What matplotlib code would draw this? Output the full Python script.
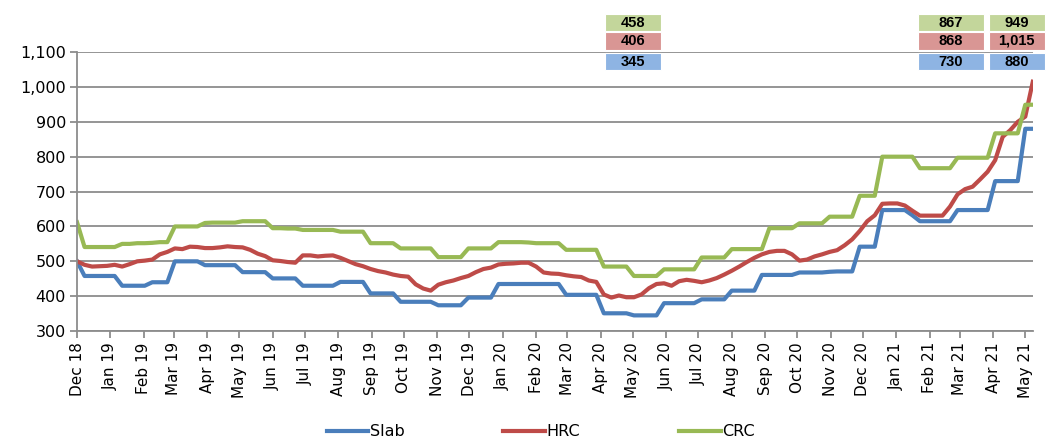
import matplotlib
matplotlib.use("Agg")
import matplotlib.pyplot as plt
import matplotlib.dates as mdates
import matplotlib.ticker as mticker
import matplotlib.transforms as mtransforms
from matplotlib.patches import Rectangle
import pandas as pd

# weekly price assessments, Dec 2018 - May 2021
start_date = "2018-12-01"

slab = [
    500, 458, 458, 458, 458, 458, 430, 430, 430, 430,
    440, 440, 440, 500, 500, 500, 500, 489, 489, 489,
    489, 489, 469, 469, 469, 469, 451, 451, 451, 451,
    430, 430, 430, 430, 430, 441, 441, 441, 441, 408,
    408, 408, 408, 384, 384, 384, 384, 384, 374, 374,
    374, 374, 396, 396, 396, 396, 435, 435, 435, 435,
    435, 435, 435, 435, 435, 404, 404, 404, 404, 404,
    351, 351, 351, 351, 345, 345, 345, 345, 380, 380,
    380, 380, 380, 391, 391, 391, 391, 416, 416, 416,
    416, 461, 461, 461, 461, 461, 468, 468, 468, 468,
    470, 471, 471, 471, 542, 542, 542, 647, 647, 647,
    647, 632, 615, 615, 615, 615, 615, 647, 647, 647,
    647, 647, 730, 730, 730, 730, 880, 880,
]
hrc = [
    500, 490, 485, 486, 487, 490, 485, 492, 500, 502,
    505, 520, 527, 537, 535, 542, 541, 538, 538, 540,
    543, 541, 540, 533, 522, 515, 503, 501, 498, 496,
    517, 517, 514, 516, 517, 510, 501, 492, 486, 478,
    472, 468, 462, 458, 456, 434, 422, 416, 433, 440,
    445, 452, 458, 469, 478, 482, 491, 493, 494, 496,
    496, 485, 468, 465, 464, 460, 457, 455, 445, 441,
    405, 396, 402, 397, 397, 405, 423, 435, 437, 430,
    443, 447, 444, 440, 445, 452, 462, 473, 485, 498,
    510, 520, 527, 530, 530, 520, 502, 505, 514, 520,
    527, 532, 546, 563, 587, 615, 632, 665, 666, 666,
    660, 645, 631, 631, 631, 631, 657, 692, 707, 714,
    735, 757, 790, 857, 876, 900, 915, 1015,
]
crc = [
    612, 541, 541, 541, 541, 541, 550, 550, 552, 552,
    553, 555, 555, 600, 600, 600, 600, 610, 611, 611,
    611, 611, 615, 615, 615, 615, 595, 595, 594, 594,
    590, 590, 590, 590, 590, 585, 585, 585, 585, 552,
    552, 552, 552, 537, 537, 537, 537, 537, 512, 512,
    512, 512, 537, 537, 537, 537, 555, 555, 555, 555,
    554, 552, 552, 552, 552, 533, 533, 533, 533, 533,
    485, 485, 485, 485, 458, 458, 458, 458, 477, 477,
    477, 477, 477, 511, 511, 511, 511, 535, 535, 535,
    535, 535, 595, 595, 595, 595, 609, 609, 609, 609,
    628, 628, 628, 628, 688, 688, 688, 800, 800, 800,
    800, 800, 767, 767, 767, 767, 767, 797, 797, 797,
    797, 797, 867, 867, 867, 867, 949, 949,
]

series_names = ["Slab", "HRC", "CRC"]
series_colors = ["#4A7EBB", "#BE4B48", "#98B954"]
box_colors = ["#8EB4E3", "#D99694", "#C3D69B"]

# value call-outs shown above the chart
callout_dates = ["2020-05-01", "2021-02-21", "2021-04-23"]
callout_slab = ["345", "730", "880"]
callout_hrc = ["406", "868", "1,015"]
callout_crc = ["458", "867", "949"]

dates = pd.date_range(start_date, periods=len(slab), freq="7D")

plt.rcParams["font.family"] = ["DejaVu Sans"]
fig = plt.figure(figsize=(10.48, 4.45), dpi=100)
ax = fig.add_axes([0.0735, 0.256, 0.912, 0.627])

for vals, name, col in zip([slab, hrc, crc], series_names, series_colors):
    ax.plot(dates, vals, color=col, lw=3.0, label=name, solid_joinstyle="round")

ax.set_ylim(300, 1100)
ax.set_xlim(pd.Timestamp(start_date), dates[-1])
ax.yaxis.set_major_locator(mticker.MultipleLocator(100))
ax.yaxis.set_major_formatter(mticker.FuncFormatter(lambda v, p: f"{v:,.0f}"))
ax.xaxis.set_major_locator(mdates.MonthLocator())
ax.xaxis.set_major_formatter(mdates.DateFormatter("%b %y"))

grid_col = "#8C8C8C"
ax.grid(axis="y", color=grid_col, lw=1.3)
ax.set_axisbelow(True)
for s in ["top", "right"]:
    ax.spines[s].set_visible(False)
for s in ["left", "bottom"]:
    ax.spines[s].set_color(grid_col)
    ax.spines[s].set_linewidth(1.3)
ax.tick_params(axis="y", length=5, color=grid_col, width=1.3, labelsize=11.5, pad=3)
ax.tick_params(axis="x", length=5, color=grid_col, width=1.3, labelsize=11, rotation=90, pad=3)

# call-out boxes: x in data, y in axes fraction
trans = mtransforms.blended_transform_factory(ax.transData, ax.transAxes)
box_w = 52  # days
box_h = 0.062
rows = [(callout_crc, 2, 1.105), (callout_hrc, 1, 1.040), (callout_slab, 0, 0.966)]
for i, d in enumerate(callout_dates):
    xc = mdates.date2num(pd.Timestamp(d))
    w = box_w + (10 if i == 1 else 0)
    for labels, k, yc in rows:
        ax.add_patch(Rectangle((xc - w / 2, yc - box_h / 2), w, box_h,
                               transform=trans, facecolor=box_colors[k],
                               edgecolor="white", lw=0.8, clip_on=False, zorder=5))
        ax.text(xc, yc, labels[i], transform=trans, ha="center", va="center",
                fontsize=10.5, fontweight="bold", color="black",
                family=["Liberation Sans", "DejaVu Sans"], zorder=6)

fig.legend(loc="center", bbox_to_anchor=(0.516, 0.03), ncol=3, frameon=False,
           fontsize=11.5, handlelength=2.6, handletextpad=0.1, columnspacing=6.2)

fig.savefig("out.png", dpi=100)
